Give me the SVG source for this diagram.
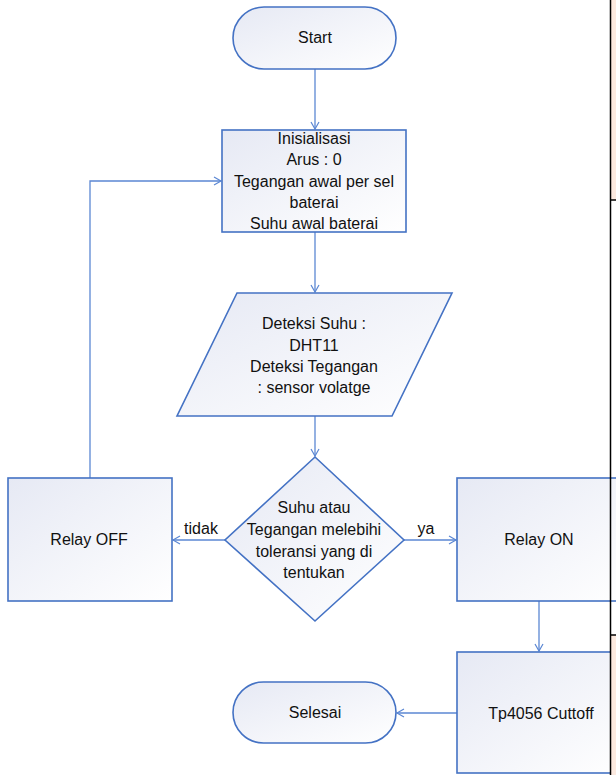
<svg xmlns="http://www.w3.org/2000/svg" width="616" height="775" viewBox="0 0 616 775">
<defs>
<linearGradient id="g" x1="0" y1="0" x2="1" y2="1">
<stop offset="0" stop-color="#E6E9F4"/>
<stop offset="1" stop-color="#FFFFFF"/>
</linearGradient>
<marker id="a" markerWidth="10" markerHeight="10" refX="8" refY="5" orient="auto" markerUnits="userSpaceOnUse">
<path d="M1,1 L8,5 L1,9" fill="none" stroke="#5B87D3" stroke-width="1.2"/>
</marker>
<style>
.n{fill:url(#g);stroke:#4472C4;stroke-width:1.6}
.t{font-family:"Liberation Sans",Arial,sans-serif;font-size:16px;fill:#111;text-anchor:middle;dominant-baseline:central}
.c{fill:none;stroke:#5B87D3;stroke-width:1.3;marker-end:url(#a)}
</style>
</defs>
<rect width="616" height="775" fill="#FFFFFF"/>
<g id="connectors">
<path class="c" d="M315,69 V129"/>
<path class="c" d="M315,232 V292"/>
<path class="c" d="M315,416 V456"/>
<path class="c" d="M404,540 H456"/>
<path class="c" d="M225,540 H173"/>
<path class="c" d="M90,478 V181 H221"/>
<path class="c" d="M539,601 V651"/>
<path class="c" d="M457,713 H397"/>
<text class="t" x="426" y="528">ya</text>
<text class="t" x="201" y="528">tidak</text>
</g>
<g id="start">
<rect class="n" x="233" y="7" width="163" height="62" rx="31"/>
<text class="t" x="315" y="37">Start</text>
</g>
<g id="init">
<rect class="n" x="222" y="130" width="184" height="102"/>
<text class="t" x="314" y="138">Inisialisasi</text>
<text class="t" x="314" y="159">Arus : 0</text>
<text class="t" x="314" y="181">Tegangan awal per sel</text>
<text class="t" x="314" y="202">baterai</text>
<text class="t" x="314" y="223">Suhu awal baterai</text>
</g>
<g id="detect">
<polygon class="n" points="237,293 452,293 392,416 177,416"/>
<text class="t" x="314" y="323">Deteksi Suhu :</text>
<text class="t" x="314" y="345">DHT11</text>
<text class="t" x="314" y="366">Deteksi Tegangan</text>
<text class="t" x="314" y="387">: sensor volatge</text>
</g>
<g id="decision">
<polygon class="n" points="315,457 404,540 315,621 225,540"/>
<text class="t" x="314" y="507">Suhu atau</text>
<text class="t" x="314" y="529">Tegangan melebihi</text>
<text class="t" x="314" y="551">toleransi yang di</text>
<text class="t" x="314" y="572">tentukan</text>
</g>
<g id="relayoff">
<rect class="n" x="8" y="478" width="164" height="123"/>
<text class="t" x="89" y="539">Relay OFF</text>
</g>
<g id="relayon">
<rect class="n" x="457" y="478" width="170" height="123"/>
<text class="t" x="539" y="539">Relay ON</text>
</g>
<g id="tp4056">
<rect class="n" x="457" y="652" width="170" height="121"/>
<text class="t" x="541" y="713">Tp4056 Cuttoff</text>
</g>
<g id="selesai">
<rect class="n" x="233" y="682" width="163" height="61" rx="30.5"/>
<text class="t" x="315" y="712">Selesai</text>
</g>
<g id="side">
<rect x="611" y="0" width="5" height="200" fill="#FBE9DF"/>
<rect x="611" y="635" width="5" height="140" fill="#FBE9DF"/>
<line x1="610.5" y1="0" x2="610.5" y2="775" stroke="#000" stroke-width="1.5"/>
<line x1="610" y1="200" x2="616" y2="200" stroke="#000" stroke-width="1.5"/>
<line x1="610" y1="635" x2="616" y2="635" stroke="#000" stroke-width="1.5"/>
</g>
</svg>
